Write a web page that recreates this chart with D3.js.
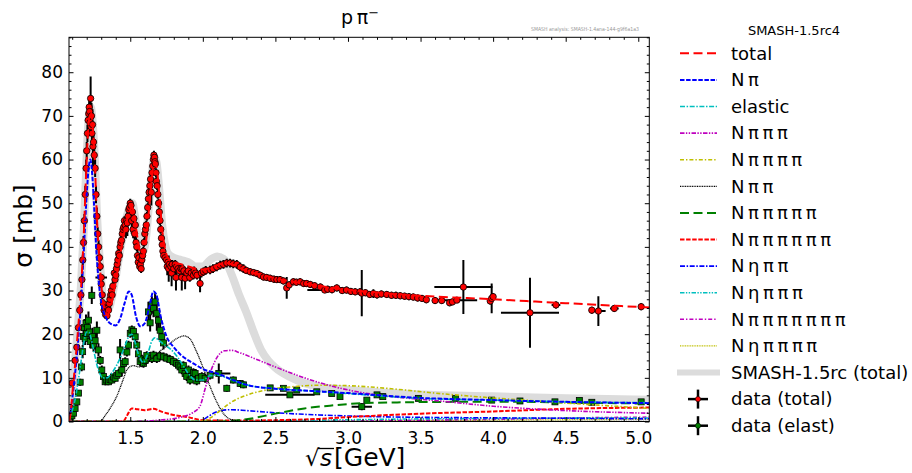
<!DOCTYPE html>
<html>
<head>
<meta charset="utf-8">
<script src="https://cdn.jsdelivr.net/npm/d3@7"></script>
<style>
  body { margin: 0; background: #fff; }
  text { font-family: "DejaVu Sans", sans-serif; }
</style>
</head>
<body>
<svg id="chart" width="912" height="473"></svg>
<script>
// ---- model curves: [sqrt(s) GeV, sigma mb] ----
const curveTotal = [[1.078,0],[1.09,2],[1.10,6],[1.12,13],[1.14,21],[1.16,30],[1.18,43],[1.20,60],[1.215,69],[1.228,71],[1.24,68],[1.255,60],[1.27,47],[1.29,36],[1.31,28],[1.33,25],[1.345,24.5],[1.36,25.5],[1.38,28.5],[1.40,32],[1.42,36],[1.44,40],[1.46,43.5],[1.48,46.5],[1.50,48.5],[1.515,49],[1.53,46.5],[1.55,42],[1.57,38.5],[1.59,38],[1.61,41.5],[1.63,49],[1.65,56],[1.665,59.5],[1.68,58.5],[1.70,52],[1.72,44],[1.74,39.5],[1.76,37.5],[1.80,36.5],[1.85,36],[1.90,35.5],[1.95,35],[2.00,34.8],[2.05,35.2],[2.10,35.8],[2.15,36.3],[2.20,36],[2.25,35.2],[2.30,34.5],[2.40,33.6],[2.50,32.8],[2.75,31.3],[3.00,30.2],[3.50,28.8],[4.00,28],[4.50,27.1],[5.08,26.1]];
const curveNpi = [[1.078,0],[1.10,5],[1.12,11],[1.14,18],[1.16,27],[1.18,39],[1.20,52],[1.215,58.5],[1.225,60],[1.237,57],[1.25,50],[1.265,40],[1.28,33],[1.30,27.5],[1.33,24],[1.36,22.5],[1.40,22],[1.43,23.5],[1.46,27],[1.49,29.8],[1.51,29],[1.54,24],[1.57,21.8],[1.60,22.5],[1.63,26],[1.66,29.8],[1.68,29],[1.71,24],[1.75,19.5],[1.80,17],[1.85,15.2],[1.90,14],[1.95,13],[2.00,12],[2.10,11],[2.20,9.6],[2.30,8.4],[2.50,7.5],[2.75,7],[3.00,6.5],[3.50,5.4],[4.00,4.9],[4.50,4.5],[5.08,4.2]];
const curveElastic = [[1.078,0],[1.10,2.5],[1.12,5],[1.14,9],[1.16,13.5],[1.18,18],[1.20,20.5],[1.215,20.5],[1.23,19],[1.25,16],[1.27,13],[1.29,11],[1.31,10],[1.34,10],[1.37,11],[1.40,12.5],[1.43,14.5],[1.46,17],[1.49,19.5],[1.51,20],[1.53,18.5],[1.56,15],[1.59,13.5],[1.62,15.5],[1.65,18.5],[1.67,19.2],[1.70,18.5],[1.74,17.5],[1.78,16.5],[1.82,15],[1.86,13],[1.90,11],[1.95,9.5],[2.00,9.5],[2.05,10.5],[2.10,10.6],[2.20,9.5],[2.30,8.4],[2.50,7.5],[2.75,7],[3.00,6.4],[3.50,5.3],[4.00,4.9],[4.50,4.5],[5.08,4.3]];
const curveNpipipi = [[1.078,0],[1.50,0],[1.70,0.3],[1.85,1],[1.93,2],[1.98,3.5],[2.02,8],[2.06,12],[2.10,14.8],[2.15,16.2],[2.20,16.3],[2.25,15.8],[2.35,14.5],[2.50,12.5],[2.70,10],[2.90,8],[3.10,6.6],[3.30,5.7],[3.60,4.8],[4.00,3.5],[4.50,2.5],[5.08,1.9]];
const curveNpipipipi = [[1.078,0],[1.98,0],[2.05,0.8],[2.12,2.5],[2.20,4.5],[2.30,6],[2.45,7.3],[2.60,7.9],[2.80,8.3],[3.00,8.2],[3.30,7.5],[3.60,6.5],[4.00,5.4],[4.30,4.7],[4.70,3.8],[5.08,3.0]];
const curveNpipi = [[1.078,0],[1.29,0],[1.33,1.5],[1.37,3.5],[1.41,6],[1.45,9.5],[1.48,12],[1.52,12.8],[1.56,12.5],[1.60,13],[1.65,14.5],[1.70,16],[1.76,17.5],[1.82,19],[1.87,19.6],[1.91,19],[1.95,16.5],[2.00,12.5],[2.05,8],[2.10,4.2],[2.15,1.5],[2.20,0.4],[2.30,0],[5.08,0]];
const curveN5pi = [[1.078,0],[2.10,0],[2.30,0.5],[2.50,1.8],[2.70,3],[2.90,3.7],[3.10,4.2],[3.40,4.4],[3.80,4.5],[4.20,4.5],[4.60,4.3],[5.08,4.1]];
const curveN6pi = [[1.078,0],[1.45,0],[1.48,1.5],[1.51,3],[1.55,2.8],[1.60,2.6],[1.66,2.9],[1.72,2.2],[1.80,1.5],[1.88,1.1],[1.95,0.6],[2.00,0.3],[2.20,0.2],[2.50,0.3],[2.80,0.6],[3.00,1.0],[3.50,1.8],[4.00,2.3],[4.50,2.9],[5.08,3.2]];
const curveNetapipi = [[1.078,0],[1.98,0],[2.03,1],[2.08,2],[2.14,2.6],[2.20,2.7],[2.30,2.5],[2.50,2],[2.80,1.5],[3.20,1.1],[3.70,0.9],[4.20,0.8],[5.08,0.6]];
const curveNeta3pi = [[1.078,0],[2.30,0],[2.60,0.2],[3.00,0.4],[3.50,0.6],[4.00,0.7],[5.08,0.8]];
const curveN7pi = [[1.078,0],[2.60,0],[3.00,0.1],[3.50,0.3],[4.00,0.5],[4.50,0.8],[5.08,1.0]];
const curveNeta4pi = [[1.078,0],[2.70,0],[3.20,0.1],[4.00,0.3],[5.08,0.5]];
const curveOldTotal = [[1.078,0],[1.10,7],[1.12,14],[1.14,22],[1.16,31],[1.18,44],[1.20,61],[1.215,70],[1.228,72],[1.24,69],[1.255,61],[1.27,48],[1.29,37],[1.31,29],[1.33,26],[1.345,25.5],[1.36,26.5],[1.38,29.5],[1.40,33],[1.42,37],[1.44,41],[1.46,44.5],[1.48,47.5],[1.50,49.5],[1.515,50],[1.53,47.5],[1.55,43],[1.57,39.5],[1.59,39],[1.61,42.5],[1.63,50],[1.65,57],[1.665,60.5],[1.68,59.5],[1.70,53],[1.72,45],[1.74,40.5],[1.76,38.5],[1.80,37.5],[1.85,37],[1.90,36.5],[1.95,35.5],[2.00,35.5],[2.05,37],[2.10,37.8],[2.15,37],[2.20,33.5],[2.25,29],[2.30,25],[2.35,20.5],[2.40,16.5],[2.45,14],[2.50,12.3],[2.60,10.2],[2.70,8.8],[2.80,8],[3.00,7.3],[3.50,6.2],[4.00,5.8],[4.50,5.3],[5.08,5.0]];

// ---- data: [sqrt(s), sigma, d_sigma, d_sqrt(s)] ----
const dataTotal = [
  [1.098,8.8,0.4,0],[1.12,14,0.6,0],[1.132,17,0.7,0],[1.143,21.5,0.8,0],[1.152,25.5,1,0],[1.16,29,1,0],
  [1.167,32.5,1.2,0],[1.173,37,1.2,0],[1.178,41,1.5,0],[1.184,46,1.5,0],[1.19,52,2,0],[1.196,58,2,0],
  [1.20,62,2,0],[1.205,66,2,0],[1.21,69,2,0],[1.214,70.5,2,0],[1.217,72,2.5,0],[1.22,71,2,0],
  [1.223,68.5,3,0],[1.227,74,5,0],[1.23,67.5,2,0],[1.233,70,3,0],[1.236,66,2,0],[1.24,68,3.5,0],
  [1.243,63,5,0],[1.247,64,2,0],[1.252,61,2,0],[1.258,58,2,0],[1.264,52,2,0],[1.27,47,2,0],
  [1.276,43,1.5,0],[1.282,40,1.5,0],[1.288,37.5,1,0],[1.293,35.5,1,0],[1.30,33,0.5,0.04],[1.30,31.5,1,0],
  [1.307,29,1,0],[1.315,27,1,0],[1.32,25.5,1,0],[1.325,26,1,0],[1.33,24.5,1,0],[1.335,25,1,0],
  [1.34,24.2,1,0],[1.345,26,1,0],[1.35,25.5,1,0],[1.355,27,1,0],[1.36,28,1,0],[1.365,29,1,0],
  [1.37,30,1,0],[1.375,29,1,0],[1.38,31,1,0],[1.39,34,1,0],[1.395,32.5,1,0],[1.40,33.5,1,0],
  [1.405,35,1,0],[1.41,36,1,0],[1.415,37,1,0],[1.42,38.5,1,0],[1.425,38,1,0],[1.43,40,1,0],
  [1.435,41,1,0],[1.44,41.5,1.5,0],[1.445,43,1,0],[1.45,44,1,0],[1.455,44.5,1,0],[1.46,46,1,0],
  [1.465,45,1,0],[1.47,44,2,0],[1.475,46,1,0],[1.48,45.5,3,0],[1.485,47,1,0],[1.49,48.5,1,0],
  [1.495,49,1,0],[1.50,50,1,0],[1.505,49.5,1,0],[1.51,46,3,0],[1.515,48,1,0],[1.52,44,2,0],
  [1.525,46.5,1,0],[1.53,43,1.5,0],[1.535,45,1,0],[1.54,41,1.5,0],[1.545,40,1,0],[1.55,38,1.5,0],
  [1.555,36.5,1,0],[1.56,37.5,1,0],[1.565,35.5,1,0],[1.57,36,1,0],[1.575,35,1,0],[1.58,37,1,0],
  [1.585,38,1.5,0],[1.59,39,1,0],[1.595,41,1,0],[1.60,43,1.5,0],[1.605,44,1,0],[1.61,45,1,0],
  [1.615,47,1,0],[1.62,49,1,0],[1.625,51,1.5,0],[1.63,52.5,1,0],[1.635,54,1,0],[1.64,55.5,1,0],
  [1.645,52.5,3,0],[1.65,57,1,0],[1.655,58.5,1,0],[1.66,60,1,0],[1.663,61,1,0],[1.667,60.5,1,0],
  [1.67,59.5,1,0],[1.673,59,1,0],[1.677,57,1,0],[1.68,55,1,0],[1.685,54,1,0],[1.69,52,1,0],
  [1.695,50,1,0],[1.70,48,1,0],[1.705,46,1,0],[1.71,44,1,0],[1.715,42,1,0],[1.72,40.5,1,0],
  [1.725,39,1,0],[1.73,38,1,0],[1.74,37.5,1,0],[1.75,37,1,0],[1.755,35.5,2,0],[1.76,36.5,1,0],
  [1.765,35,3,0],[1.77,36,1,0],[1.78,35.5,1,0],[1.785,34,3,0],[1.79,36,1,0],[1.80,35,1,0],
  [1.81,36,1,0],[1.815,33,3,0],[1.82,35.5,1,0],[1.83,35,1,0],[1.84,34.5,1,0],[1.85,35,1,0],
  [1.855,33,3,0],[1.86,35,1,0],[1.87,34.5,1,0],[1.878,32.8,2.5,0],[1.89,34,1,0],[1.90,34.5,1,0],
  [1.91,33,1,0],[1.92,34,1,0],[1.935,33.5,1,0],[1.94,34.5,1,0],[1.95,34,1,0],[1.96,33.5,1,0],
  [1.981,31.6,2,0],[1.99,34,1,0],[2.004,34.3,1,0],[2.02,34.6,1,0],[2.05,34.7,1,0],[2.07,35,1,0],
  [2.096,35.4,1,0],[2.12,35.8,1,0],[2.142,36,1,0],[2.165,36.3,1,0],[2.188,36.3,1,0],[2.21,36.1,1,0],
  [2.234,36,1,0],[2.257,35.4,1,0],[2.28,35,1,0],[2.30,34.6,0.8,0],[2.326,34.3,0.8,0],[2.35,34.1,0.8,0],
  [2.372,33.9,0.8,0],[2.395,33.5,0.8,0],[2.418,33.1,0.8,0],[2.44,33,0.8,0],[2.464,32.8,0.8,0],
  [2.49,32.6,0.8,0],[2.51,32.5,0.8,0],[2.532,32.5,0.8,0],[2.555,32.2,0.8,0],[2.578,30.6,2.5,0],
  [2.595,31.3,0.8,0],[2.624,32,0.8,0],[2.645,31.9,0.8,0],[2.67,32,0.8,0],[2.695,31.6,0.8,0],
  [2.715,31.6,0.8,0],[2.74,31.4,0.8,0],[2.77,31.1,0.8,0],[2.81,30.8,0.8,0],[2.84,30.1,0.5,0.12],
  [2.86,30.3,0.8,0],[2.89,30.2,0.8,0],[2.923,30.6,0.8,0.03],[2.96,30,0.8,0],[2.99,30.1,0.8,0],
  [3.02,29.8,0.8,0],[3.05,29.7,0.8,0],[3.083,29.7,0.8,0],[3.095,29.4,5.3,0],[3.12,29.5,0.8,0],
  [3.15,29.1,0.8,0],[3.175,29.3,1,0],[3.20,29,0.8,0],[3.23,29.2,0.8,0],[3.267,29.1,0.8,0],
  [3.30,28.9,0.8,0],[3.33,28.9,0.8,0],[3.36,28.8,0.8,0],[3.39,28.7,0.8,0],[3.42,28.6,0.8,0],
  [3.45,28.5,0.8,0],[3.48,28.3,0.8,0],[3.51,28.2,0.8,0],[3.54,27.9,0.8,0],[3.60,27.7,0.8,0],
  [3.646,27.7,0.8,0],[3.70,27.2,0.8,0],[3.72,27.4,0.8,0],[3.75,27.8,0.5,0.14],[3.795,30.8,6.2,0.2],
  [3.98,27.6,0.8,0],[3.99,28.2,3.4,0],[4.0,28.6,0.8,0],[4.254,24.9,8,0.2],[4.433,26.7,0.8,0.03],
  [4.68,25.5,0.8,0],[4.725,25.3,3.4,0.05],[4.835,25.9,0.8,0.03],[5.02,26.3,0.8,0]
];
const dataElastic = [
  [1.086,0.7,0.2,0],[1.098,1.3,0.3,0],[1.109,1.9,0.3,0],[1.12,3,0.4,0],[1.132,4.5,0.5,0],[1.143,6.5,0.6,0],
  [1.155,9,0.8,0],[1.165,12.5,1,0],[1.172,16,1.5,0],[1.178,19.5,2,0],[1.184,21.5,2,0],[1.189,19,1.5,0],
  [1.195,22.5,2,0],[1.20,20.2,1.5,0],[1.206,21.5,2,0],[1.212,23.2,2,0],[1.218,20.5,1.5,0],[1.224,18.3,1.5,0],
  [1.235,28.9,2,0],[1.24,19.5,2,0],[1.247,17.5,1.5,0],[1.258,18.5,2,0],[1.27,20.9,2,0],[1.281,16.4,1.5,0],
  [1.293,14,1,0],[1.304,11.8,1,0],[1.315,10.3,1,0],[1.327,9.1,0.8,0],[1.338,9.5,0.8,0],[1.35,9.1,0.8,0],
  [1.361,9.6,0.8,0],[1.373,9.5,0.8,0],[1.385,10.2,0.8,0],[1.396,9.9,0.8,0],[1.408,10.6,0.8,0],[1.42,11,1,0],
  [1.43,16.4,2.5,0],[1.442,11.8,1.5,0],[1.453,13.3,1,0],[1.465,13.7,1,0],[1.477,15.9,1,0],[1.488,17.5,1,0],
  [1.50,20.2,1,0],[1.511,21,1,0],[1.522,20.6,1,0],[1.534,19.4,1,0],[1.545,17.5,1,0],[1.556,15.5,1,0],
  [1.568,13.7,1,0],[1.58,14.3,1,0],[1.591,13.3,1,0],[1.603,14,1,0],[1.614,15.1,1,0],[1.625,25.1,2.3,0],
  [1.637,22.6,2,0],[1.649,26.7,2,0],[1.66,25.9,2,0],[1.671,27.4,2,0],[1.683,24.8,4,0],[1.694,23.2,2,0],
  [1.706,20.9,2,0],[1.717,19.4,1.5,0],[1.729,18,1.5,0],[1.649,14.4,1,0],[1.66,15.2,1,0],[1.683,14.4,1,0.03],
  [1.706,15,1,0],[1.73,14.8,1,0],[1.752,14.5,1,0],[1.775,14.2,1,0],[1.797,13.7,1,0],[1.82,13.3,1,0],
  [1.832,12.9,1,0],[1.843,12.5,1,0],[1.855,11.8,1,0],[1.866,12.8,1,0],[1.878,11,1,0],[1.889,10.3,1,0],
  [1.901,11.8,1,0],[1.912,9.5,1,0],[1.924,10.3,1,0],[1.935,11.2,1,0],[1.947,11,1,0],[1.958,9.3,1,0],
  [1.97,9.9,1,0],[1.993,10.3,1,0],[2.016,9.9,1,0],[2.05,10.6,1,0],[2.11,11,2.3,0.08],[2.165,7.6,0.8,0],
  [2.21,9.5,0.8,0],[2.257,8.7,0.8,0],[2.28,8.4,0.8,0],[2.464,7.7,0.5,0],[2.555,7.6,0.5,0],[2.6,6.1,0.5,0.17],
  [2.647,7.2,0.5,0],[2.785,6.8,0.5,0],[2.888,6.4,0.5,0],[2.945,5.7,0.5,0],[3.095,3.4,0.8,0.07],[3.13,4.9,0.5,0],
  [3.2,6.1,0.5,0],[3.24,5.7,0.5,0],[3.485,5.3,0.5,0],[3.74,5.3,0.5,0],[3.99,4.9,0.5,0],[4.185,4.7,0.5,0],
  [4.426,4.5,0.5,0],[4.594,4.8,0.5,0],[4.68,4.4,0.5,0],[5.02,4.5,0.5,0]
];

// ---- axis ticks ----
const xMajorTicks = [1.5, 2.0, 2.5, 3.0, 3.5, 4.0, 4.5, 5.0];
const yMajorTicks = [0, 10, 20, 30, 40, 50, 60, 70, 80];

// ---- layout ----
const plot = { left: 69, right: 649.3, top: 37.3, bottom: 421.5 };
const x = d3.scaleLinear().domain([1.078, 5.076]).range([plot.left, plot.right]);
const y = d3.scaleLinear().domain([0, 88]).range([plot.bottom, plot.top]);

const xMinorTicks = d3.range(11, 51).map(d => d / 10).filter(d => d >= 1.078 && Math.abs(d * 2 - Math.round(d * 2)) > 1e-6);
const yMinorTicks = d3.range(0, 89, 2).filter(d => d % 10 !== 0);

const svg = d3.select("#chart");

svg.append("defs").append("clipPath").attr("id", "clip")
  .append("rect")
  .attr("x", plot.left).attr("y", plot.top)
  .attr("width", plot.right - plot.left).attr("height", plot.bottom - plot.top);

const layer = svg.append("g").attr("clip-path", "url(#clip)");

const line = d3.line().x(d => x(d[0])).y(d => y(d[1])).curve(d3.curveMonotoneX);

// series styles (matplotlib colours)
const series = [
  { label: "total", data: curveTotal, color: "#ff0000", width: 2, dash: "9,4.5" },
  { label: "N\u2009\u03c0", data: curveNpi, color: "#0000ff", width: 2, dash: "4.5,1.6" },
  { label: "elastic", data: curveElastic, color: "#00bfbf", width: 1.6, dash: "5,1.6,1.5,1.6" },
  { label: "N\u2009\u03c0\u2009\u03c0\u2009\u03c0", data: curveNpipipi, color: "#bf00bf", width: 1.6, dash: "4.5,1.4,1.4,1.4,1.4,1.4" },
  { label: "N\u2009\u03c0\u2009\u03c0\u2009\u03c0\u2009\u03c0", data: curveNpipipipi, color: "#bfbf00", width: 1.6, dash: "4,2,1.4,2" },
  { label: "N\u2009\u03c0\u2009\u03c0", data: curveNpipi, color: "#000000", width: 1.3, dash: "1,0.7" },
  { label: "N\u2009\u03c0\u2009\u03c0\u2009\u03c0\u2009\u03c0\u2009\u03c0", data: curveN5pi, color: "#008000", width: 2, dash: "9,4.5" },
  { label: "N\u2009\u03c0\u2009\u03c0\u2009\u03c0\u2009\u03c0\u2009\u03c0\u2009\u03c0", data: curveN6pi, color: "#ff0000", width: 2, dash: "4.5,1.6" },
  { label: "N\u2009\u03b7\u2009\u03c0\u2009\u03c0", data: curveNetapipi, color: "#0000ff", width: 1.6, dash: "5,1.6,1.5,1.6" },
  { label: "N\u2009\u03b7\u2009\u03c0\u2009\u03c0\u2009\u03c0", data: curveNeta3pi, color: "#00bfbf", width: 1.6, dash: "4.5,1.4,1.4,1.4,1.4,1.4" },
  { label: "N\u2009\u03c0\u2009\u03c0\u2009\u03c0\u2009\u03c0\u2009\u03c0\u2009\u03c0\u2009\u03c0", data: curveN7pi, color: "#bf00bf", width: 1.6, dash: "4,2,1.4,2" },
  { label: "N\u2009\u03b7\u2009\u03c0\u2009\u03c0\u2009\u03c0\u2009\u03c0", data: curveNeta4pi, color: "#bfbf00", width: 1.3, dash: "1,0.7" }
];
const oldStyle = { label: "SMASH-1.5rc (total)", color: "#dcdcdc", width: 8 };

// old SMASH version (grey band) behind everything
layer.append("path")
  .datum(curveOldTotal)
  .attr("d", line)
  .attr("fill", "none")
  .attr("stroke", oldStyle.color)
  .attr("stroke-width", oldStyle.width);

// error bars + markers
function drawData(data, fill, shape) {
  const g = layer.append("g");
  data.forEach(d => {
    if (d[2] > 0) {
      g.append("line")
        .attr("x1", x(d[0])).attr("x2", x(d[0]))
        .attr("y1", y(d[1] - d[2])).attr("y2", y(d[1] + d[2]))
        .attr("stroke", "#000").attr("stroke-width", 2);
    }
    if (d[3] > 0) {
      g.append("line")
        .attr("x1", x(d[0] - d[3])).attr("x2", x(d[0] + d[3]))
        .attr("y1", y(d[1])).attr("y2", y(d[1]))
        .attr("stroke", "#000").attr("stroke-width", 2);
    }
  });
  data.forEach(d => {
    if (shape === "circle") {
      g.append("circle")
        .attr("cx", x(d[0])).attr("cy", y(d[1])).attr("r", 3.2)
        .attr("fill", fill).attr("stroke", "#000").attr("stroke-width", 0.8);
    } else {
      g.append("rect")
        .attr("x", x(d[0]) - 3).attr("y", y(d[1]) - 3)
        .attr("width", 6).attr("height", 6)
        .attr("fill", fill).attr("stroke", "#000").attr("stroke-width", 0.8);
    }
  });
}
drawData(dataTotal, "#ff0000", "circle");
drawData(dataElastic, "#008000", "square");

// model curves on top (draw the low ones first)
series.slice().reverse().forEach(s => {
  layer.append("path")
    .datum(s.data)
    .attr("d", line)
    .attr("fill", "none")
    .attr("stroke", s.color)
    .attr("stroke-width", s.width)
    .attr("stroke-dasharray", s.dash);
});

// ---- axes (ticks inward, like matplotlib "in") ----
function styleAxis(g) {
  g.select(".domain").remove();
  g.selectAll("line").attr("stroke", "#000").attr("stroke-width", 1);
  g.selectAll("text").attr("font-family", "DejaVu Sans").attr("font-size", 17).attr("fill", "#000");
}
svg.append("g").attr("transform", `translate(0,${plot.bottom})`)
  .call(d3.axisBottom(x).tickValues(xMajorTicks).tickFormat(d3.format(".1f")).tickSize(-4.5).tickPadding(10))
  .call(styleAxis);
svg.append("g").attr("transform", `translate(0,${plot.bottom})`)
  .call(d3.axisBottom(x).tickValues(xMinorTicks).tickFormat("").tickSize(-2.5))
  .call(styleAxis);
svg.append("g").attr("transform", `translate(0,${plot.top})`)
  .call(d3.axisTop(x).tickValues(xMajorTicks).tickFormat("").tickSize(-4.5))
  .call(styleAxis);
svg.append("g").attr("transform", `translate(0,${plot.top})`)
  .call(d3.axisTop(x).tickValues(xMinorTicks).tickFormat("").tickSize(-2.5))
  .call(styleAxis);
svg.append("g").attr("transform", `translate(${plot.left},0)`)
  .call(d3.axisLeft(y).tickValues(yMajorTicks).tickSize(-4.5).tickPadding(6))
  .call(styleAxis);
svg.append("g").attr("transform", `translate(${plot.left},0)`)
  .call(d3.axisLeft(y).tickValues(yMinorTicks).tickFormat("").tickSize(-2.5))
  .call(styleAxis);
svg.append("g").attr("transform", `translate(${plot.right},0)`)
  .call(d3.axisRight(y).tickValues(yMajorTicks).tickFormat("").tickSize(-4.5))
  .call(styleAxis);
svg.append("g").attr("transform", `translate(${plot.right},0)`)
  .call(d3.axisRight(y).tickValues(yMinorTicks).tickFormat("").tickSize(-2.5))
  .call(styleAxis);

svg.append("rect")
  .attr("x", plot.left).attr("y", plot.top)
  .attr("width", plot.right - plot.left).attr("height", plot.bottom - plot.top)
  .attr("fill", "none").attr("stroke", "#000").attr("stroke-width", 1);

// ---- titles and labels ----
const title = svg.append("text")
  .attr("x", 360).attr("y", 24)
  .attr("text-anchor", "middle")
  .attr("font-size", 19);
title.append("tspan").text("p\u2009\u03c0");
title.append("tspan").attr("font-size", 13).attr("dy", -7).text("\u2212");

svg.append("text")
  .attr("x", 639).attr("y", 31)
  .attr("text-anchor", "end")
  .attr("font-size", 5.5)
  .attr("textLength", 108)
  .attr("lengthAdjust", "spacingAndGlyphs")
  .attr("fill", "#999")
  .text("SMASH analysis: SMASH-1.4ana-144-g9f6a1a3");

svg.append("text")
  .attr("transform", "translate(32,226) rotate(-90)")
  .attr("text-anchor", "middle")
  .attr("font-size", 25)
  .text("\u03c3 [mb]");

// x label: sqrt(s) with an overbar, then [GeV]
const xl = svg.append("g");
xl.append("text").attr("x", 305).attr("y", 466).attr("font-size", 23).attr("font-family", "DejaVu Serif").text("\u221a");
xl.append("text").attr("x", 320).attr("y", 466).attr("font-size", 23).attr("font-family", "DejaVu Serif").attr("font-style", "italic").text("s");
xl.append("line").attr("x1", 318).attr("x2", 334).attr("y1", 448.5).attr("y2", 448.5).attr("stroke", "#000").attr("stroke-width", 1.3);
xl.append("text").attr("x", 334).attr("y", 466).attr("font-size", 25).text("[GeV]");

// ---- legend ----
const legend = svg.append("g");
legend.append("text")
  .attr("x", 794).attr("y", 35)
  .attr("text-anchor", "middle")
  .attr("font-size", 13)
  .text("SMASH-1.5rc4");

const rowY = i => 53.3 + 26.6 * i;
series.forEach((s, i) => {
  legend.append("line")
    .attr("x1", 680).attr("x2", 717)
    .attr("y1", rowY(i)).attr("y2", rowY(i))
    .attr("stroke", s.color).attr("stroke-width", s.width)
    .attr("stroke-dasharray", s.dash);
  legend.append("text")
    .attr("x", 731).attr("y", rowY(i))
    .attr("dy", "0.35em")
    .attr("font-size", 18)
    .text(s.label);
});
legend.append("line")
  .attr("x1", 677).attr("x2", 720)
  .attr("y1", rowY(12)).attr("y2", rowY(12))
  .attr("stroke", oldStyle.color).attr("stroke-width", 6);
legend.append("text")
  .attr("x", 731).attr("y", rowY(12)).attr("dy", "0.35em")
  .attr("font-size", 18)
  .text(oldStyle.label);

[["data (total)", "#ff0000"], ["data (elast)", "#008000"]].forEach((e, k) => {
  const cy = rowY(13 + k), cx = 698;
  legend.append("line").attr("x1", cx - 10).attr("x2", cx + 10).attr("y1", cy).attr("y2", cy)
    .attr("stroke", "#000").attr("stroke-width", 2.5);
  legend.append("line").attr("x1", cx).attr("x2", cx).attr("y1", cy - 9.5).attr("y2", cy + 9.5)
    .attr("stroke", "#000").attr("stroke-width", 2.5);
  legend.append("circle").attr("cx", cx).attr("cy", cy).attr("r", 2.6)
    .attr("fill", e[1]).attr("stroke", "#000").attr("stroke-width", 0.6);
  legend.append("text")
    .attr("x", 731).attr("y", cy).attr("dy", "0.35em")
    .attr("font-size", 18)
    .text(e[0]);
});
</script>
</body>
</html>
